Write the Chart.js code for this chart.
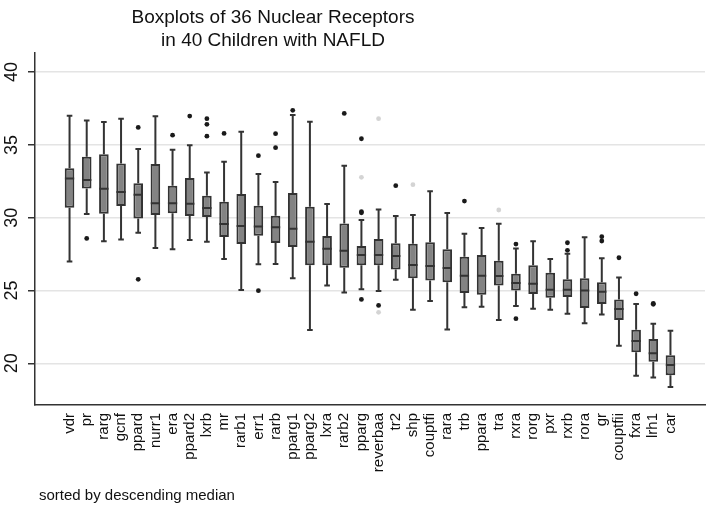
<!DOCTYPE html>
<html>
<head>
<meta charset="utf-8">
<script src="https://cdn.jsdelivr.net/npm/chart.js@4.4.0/dist/chart.umd.min.js"></script>
<style>
  html, body { margin: 0; padding: 0; background: #fff; }
  #wrap { position: relative; width: 709px; height: 508px; }
  #wrap canvas { position: absolute; left: 0; top: 0; }
  .title { position: absolute; left: 0; top: 5px; width: 546px; text-align: center;
           font-family: "Liberation Sans", Arial, sans-serif; font-size: 19px; line-height: 23px; color: #111; }
  .note { position: absolute; left: 39px; top: 486px; font-family: "Liberation Sans", Arial, sans-serif;
          font-size: 15px; line-height: 18px; color: #111; }
</style>
</head>
<body>
<div id="wrap">
  <canvas id="boxChart" width="709" height="508"></canvas>
  <div class="title">Boxplots of 36 Nuclear Receptors<br>in 40 Children with NAFLD</div>
  <div class="note">sorted by descending median</div>
</div>
<script>
// receptors, already sorted by descending median
const labels = ['vdr', 'pr', 'rarg', 'gcnf', 'ppard', 'nurr1', 'era', 'ppard2', 'lxrb', 'mr',
    'rarb1', 'err1', 'rarb', 'pparg1', 'pparg2', 'lxra', 'rarb2', 'pparg', 'reverbaa', 'tr2',
    'shp', 'couptfi', 'rara', 'trb', 'ppara', 'tra', 'rxra', 'rorg', 'pxr', 'rxrb',
    'rora', 'gr', 'couptfii', 'fxra', 'lrh1', 'car'];

const whiskerLow = [27.0, 30.25, 28.38, 28.51, 28.97, 27.92, 27.83, 28.47, 28.35, 27.16,
    25.03, 26.8, 26.82, 25.84, 22.29, 25.35, 24.87, 25.08, 24.97, 25.74,
    23.68, 24.28, 22.33, 23.86, 23.89, 22.97, 23.94, 23.75, 23.68, 23.41,
    22.75, 23.36, 21.21, 19.15, 19.02, 18.38];
const q1 = [30.69, 32.01, 30.27, 30.8, 29.95, 30.18, 30.3, 30.11, 30.05, 28.67,
    28.19, 28.76, 28.26, 27.99, 26.73, 26.73, 26.57, 26.73, 26.73, 26.45,
    25.84, 25.68, 25.56, 24.83, 24.71, 25.35, 25.01, 24.76, 24.51, 24.55,
    23.8, 24.07, 22.97, 20.76, 20.11, 19.18];
const median = [32.7, 32.59, 31.99, 31.76, 31.58, 31.0, 31.0, 30.96, 30.66, 29.57,
    29.43, 29.4, 29.34, 29.24, 28.35, 27.87, 27.73, 27.44, 27.44, 27.37,
    26.75, 26.68, 26.54, 26.02, 26.01, 26.0, 25.51, 25.47, 25.06, 25.06,
    25.01, 24.92, 23.73, 21.53, 20.69, 19.89];
const q3 = [33.39, 34.19, 34.35, 33.73, 32.36, 33.68, 32.2, 32.72, 31.51, 31.1,
    31.62, 30.82, 30.14, 31.69, 30.76, 28.74, 29.61, 28.05, 28.54, 28.24,
    28.22, 28.31, 27.83, 27.32, 27.44, 27.05, 26.16, 26.73, 26.22, 25.77,
    25.84, 25.56, 24.39, 22.31, 21.67, 20.55];
const whiskerHigh = [37.0, 36.68, 36.57, 36.8, 34.71, 36.96, 34.67, 34.97, 33.11, 33.84,
    35.9, 33.0, 32.45, 37.05, 36.59, 30.94, 33.57, 29.84, 30.57, 30.11,
    30.18, 31.81, 30.32, 28.9, 29.29, 29.59, 27.89, 28.38, 27.16, 27.53,
    28.65, 27.21, 25.9, 24.07, 22.72, 22.24];

// outside values, one list per receptor
const outliers = [[], [28.58], [], [], [36.2, 25.77], [], [35.67], [36.98], [36.8, 36.41, 35.6], [35.79],
    [], [34.26, 24.99], [35.77, 34.81], [37.37], [], [], [37.16], [35.42, 30.41, 30.34, 24.39], [23.98], [32.2],
    [], [], [], [31.14], [], [], [28.19, 23.07], [], [], [28.28, 27.76],
    [], [28.7, 28.4], [27.25], [24.78], [24.12, 24.05], []];
// the faint grey points
const faintPoints = [[], [], [], [], [], [], [], [], [], [],
    [], [], [], [], [], [], [], [32.77], [36.8, 23.5], [],
    [32.27], [], [], [], [], [30.53], [], [], [], [],
    [], [], [], [], [], []];

const yTicks = [20, 25, 30, 35, 40];

const FONT = "'Liberation Sans', Arial, sans-serif";

const toPoints = lists => {
    const pts = [];
    lists.forEach((arr, i) => arr.forEach(v => pts.push({ x: i, y: v })));
    return pts;
};

// whiskers + median lines, placed with the chart scales
const boxLines = {
    id: 'boxLines',
    afterDatasetsDraw(chart) {
        const { ctx, scales: { x, y } } = chart;
        ctx.save();
        ctx.strokeStyle = '#333';
        ctx.lineWidth = 2;
        labels.forEach((_, i) => {
            const px = x.getPixelForValue(i);
            const cap = 2.8;
            const half = x.getPixelForValue(0.27) - x.getPixelForValue(0);
            ctx.beginPath();
            ctx.moveTo(px, y.getPixelForValue(q3[i]));
            ctx.lineTo(px, y.getPixelForValue(whiskerHigh[i]));
            ctx.moveTo(px, y.getPixelForValue(q1[i]));
            ctx.lineTo(px, y.getPixelForValue(whiskerLow[i]));
            ctx.moveTo(px - cap, y.getPixelForValue(whiskerHigh[i]));
            ctx.lineTo(px + cap, y.getPixelForValue(whiskerHigh[i]));
            ctx.moveTo(px - cap, y.getPixelForValue(whiskerLow[i]));
            ctx.lineTo(px + cap, y.getPixelForValue(whiskerLow[i]));
            ctx.moveTo(px - half, y.getPixelForValue(median[i]));
            ctx.lineTo(px + half, y.getPixelForValue(median[i]));
            ctx.stroke();
        });
        ctx.restore();
    },
    afterDraw(chart) {
        // rotated y tick labels
        const { ctx, scales: { y } } = chart;
        ctx.save();
        ctx.fillStyle = '#111';
        ctx.font = '18px ' + FONT;
        ctx.textAlign = 'center';
        ctx.textBaseline = 'middle';
        yTicks.forEach(v => {
            ctx.save();
            ctx.translate(12, y.getPixelForValue(v));
            ctx.rotate(-Math.PI / 2);
            ctx.fillText(String(v), 0, 0);
            ctx.restore();
        });
        ctx.restore();
    }
};

new Chart(document.getElementById('boxChart'), {
    type: 'bar',
    data: {
        datasets: [
            {
                data: labels.map((_, i) => ({ x: i, y: [q1[i], q3[i]] })),
                backgroundColor: '#838383',
                borderColor: '#333',
                borderWidth: 2,
                borderSkipped: false,
                barPercentage: 0.56,
                categoryPercentage: 1,
                order: 2
            },
            {
                type: 'line',
                data: toPoints(outliers),
                showLine: false,
                pointRadius: 2.4,
                pointBorderWidth: 0,
                pointBackgroundColor: '#1a1a1a',
                order: 1
            },
            {
                type: 'line',
                data: toPoints(faintPoints),
                showLine: false,
                pointRadius: 2.4,
                pointBorderWidth: 0,
                pointBackgroundColor: '#d4d4d4',
                order: 1
            }
        ]
    },
    options: {
        responsive: false,
        animation: false,
        layout: { padding: { top: 52.7, right: 4, bottom: 0, left: 0 } },
        plugins: { legend: { display: false }, tooltip: { enabled: false } },
        scales: {
            x: {
                type: 'linear',
                min: -1.47,
                max: 36.47,
                afterBuildTicks: s => { s.ticks = labels.map((_, i) => ({ value: i })); },
                afterFit: s => { s.height = 103; },
                grid: { display: false, drawTicks: false },
                border: { color: '#333', width: 1.5 },
                ticks: {
                    autoSkip: false,
                    minRotation: 90,
                    maxRotation: 90,
                    padding: 8,
                    color: '#111',
                    font: { family: FONT, size: 15 },
                    callback: v => labels[v]
                }
            },
            y: {
                min: 17.14,
                max: 41.33,
                afterBuildTicks: s => { s.ticks = yTicks.map(v => ({ value: v })); },
                afterFit: s => { s.width = 35; },
                grid: { color: '#e4e4e4', lineWidth: 1.5, tickLength: 7, tickColor: '#333', tickWidth: 1.5 },
                border: { color: '#333', width: 1.5 },
                ticks: { display: false }
            }
        }
    },
    plugins: [boxLines]
});
</script>
</body>
</html>
